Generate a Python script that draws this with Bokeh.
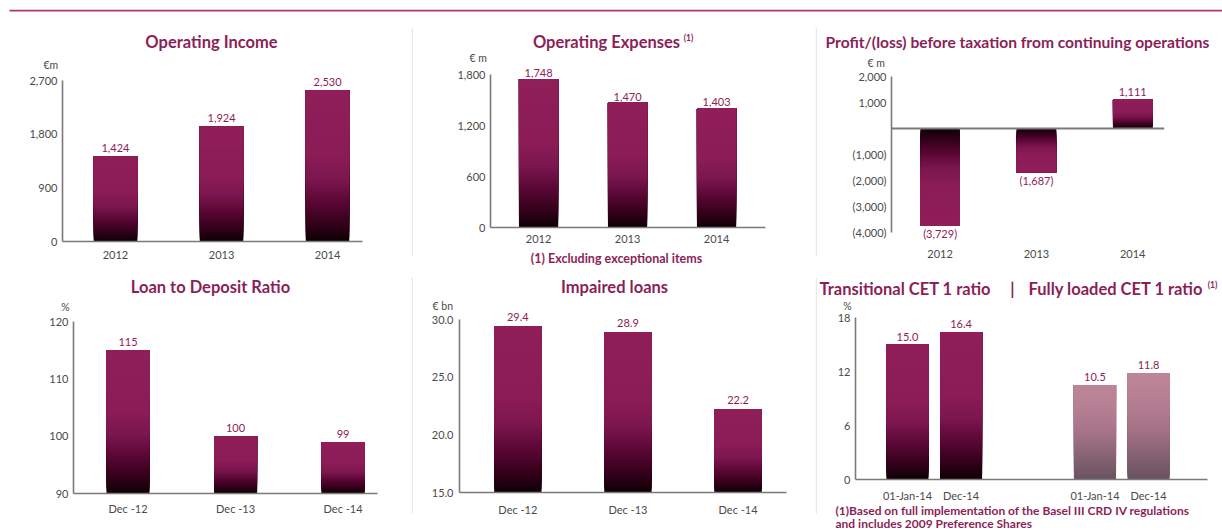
from bokeh.plotting import figure
from bokeh.layouts import column, row
from bokeh.models import (Range1d, LabelSet, ColumnDataSource, FixedTicker,
                          NumeralTickFormatter, CustomJSTickFormatter, Span)
from bokeh.embed import file_html
from bokeh.resources import INLINE
from bokeh.core.properties import value

# ---------------- data ----------------
years = ["2012", "2013", "2014"]
operating_income = [1424, 1924, 2530]
operating_expenses = [1748, 1470, 1403]
profit_before_tax = [-3729, -1687, 1111]
ldr_dates = ["Dec -12", "Dec -13", "Dec -14"]
loan_to_deposit = [115, 100, 99]
impaired_loans = [29.4, 28.9, 22.2]
cet_dates = ["01-Jan-14", "Dec-14"]
cet_transitional = [15.0, 16.4]
cet_fully_loaded = [10.5, 11.8]

oi_ticks = [0, 900, 1800, 2700]
oe_ticks = [0, 600, 1200, 1800]
pbt_ticks = [-4000, -3000, -2000, -1000, 1000, 2000]
ldr_ticks = [90, 100, 110, 120]
il_ticks = [15, 20, 25, 30]
cet_ticks = [0, 6, 12, 18]

# ---------------- style ----------------
FONT = "Lato"
PINK = "#8D1C57"
TITLE = "#8B1F58"
AXIS = "#7a7a7a"
TICKTXT = "#4a4a4a"
TSIZE = 16.5
DARK_STOPS = [(0.0, "#0e0004"), (0.1, "#2e0017"), (0.25, "#580632"),
              (0.42, "#7d1650"), (0.58, "#8b1c56"), (1.0, "#8f1e59")]
LIGHT_STOPS = [(0.0, "#6a5261"), (0.5, "#a67487"), (0.8, "#b98195"), (1.0, "#bd8597")]


def _rgb(h):
    return tuple(int(h[i:i + 2], 16) for i in (1, 3, 5))


def interp(stops, t):
    for (t0, c0), (t1, c1) in zip(stops[:-1], stops[1:]):
        if t <= t1:
            f = (t - t0) / (t1 - t0) if t1 > t0 else 0
            a, b = _rgb(c0), _rgb(c1)
            return "#%02x%02x%02x" % tuple(round(a[i] + (b[i] - a[i]) * f) for i in range(3))
    return stops[-1][1]


def blank_fig(x0, y0, W, H):
    f = figure(width=W, height=H, x_range=Range1d(x0, x0 + W), y_range=Range1d(y0 + H, y0),
               min_border=0, toolbar_location=None, output_backend="svg",
               x_axis_type=None, y_axis_type=None, outline_line_color=None,
               background_fill_color="white", border_fill_color="white")
    f.xgrid.visible = False
    f.ygrid.visible = False
    return f


def text_fig(x0, y0, W, H, items):
    f = blank_fig(x0, y0, W, H)
    for px, py, t, size, color, bold, align in items:
        f.text(x=[px], y=[py], text=[t], text_font=value(FONT), text_font_size=f"{size}px",
               text_color=color, text_font_style="bold" if bold else "normal",
               text_align=align, text_baseline="middle")
    return row(f)  # wrapped so that it is not frame-aligned with the chart


def y_range_for(v_top, py_top, v_bot, py_bot, ft, fb):
    s = (v_top - v_bot) / (py_bot - py_top)
    return (v_bot - (fb - py_bot) * s, v_top + (py_top - ft) * s)


def make_chart(x0, y0, W, H, fl, ft, fr, fb, xr, yr, ybounds, yticks, yfmt, xs, xlabels,
               xstand, ystand=5):
    p = figure(width=W, height=H, x_range=Range1d(*xr), y_range=Range1d(*yr),
               min_border_left=fl - x0, min_border_top=ft - y0,
               min_border_right=x0 + W - fr, min_border_bottom=y0 + H - fb,
               toolbar_location=None, output_backend="svg",
               outline_line_color=None, background_fill_color="white",
               border_fill_color="white")
    p.xgrid.visible = False
    p.ygrid.visible = False
    for ax in (p.xaxis[0], p.yaxis[0]):
        ax.axis_line_color = AXIS
        ax.axis_line_width = 1.6
        ax.major_tick_line_color = None
        ax.minor_tick_line_color = None
        ax.major_tick_out = 0
        ax.major_tick_in = 0
        ax.minor_tick_out = 0
        ax.major_label_text_font = FONT
        ax.major_label_text_font_size = "11px"
        ax.major_label_text_color = TICKTXT
    p.yaxis[0].bounds = ybounds
    p.yaxis[0].ticker = FixedTicker(ticks=yticks)
    p.yaxis[0].formatter = yfmt
    p.yaxis[0].major_label_standoff = ystand
    p.xaxis[0].ticker = FixedTicker(ticks=xs)
    p.xaxis[0].formatter = CustomJSTickFormatter(args=dict(labels=xlabels), code="return labels[index];")
    p.xaxis[0].major_label_standoff = xstand
    return p


def gradient_bars(p, xs, vals, base, width, stops, n=48):
    # each slice runs from its own start to the bar end, painted base-first,
    # so later slices cover earlier ones and no seams appear
    L, R, B, T, C = [], [], [], [], []
    for x, v in zip(xs, vals):
        for k in range(n):
            t0 = k / n
            L.append(x - width / 2)
            R.append(x + width / 2)
            B.append(base + (v - base) * t0)
            T.append(v)
            C.append(interp(stops, (k + 0.5) / n))
    src = ColumnDataSource(dict(left=L, right=R, bottom=B, top=T, color=C))
    p.quad(left="left", right="right", bottom="bottom", top="top", fill_color="color",
           line_color=None, source=src)


def value_labels(p, xs, vals, texts, offsets):
    src = ColumnDataSource(dict(x=xs, y=vals, text=texts, off=offsets))
    p.add_layout(LabelSet(x="x", y="y", text="text", y_offset="off", source=src,
                          text_align="center", text_baseline="middle",
                          text_font=value(FONT), text_font_size="11px", text_color=PINK))


def line_fig(W, H, y0, y1, x_start, color):
    f = blank_fig(0, 0, W, H)
    f.quad(left=x_start, right=W, top=y0, bottom=y1, fill_color=color, line_color=None)
    return f


def sep_fig(H, page_y0, y_top, y_bot):
    f = blank_fig(0, page_y0, 2, H)
    f.quad(left=0, right=2, top=y_top, bottom=y_bot, fill_color="#e8e8e8", line_color=None)
    return f


comma = NumeralTickFormatter(format="0,0")
paren = CustomJSTickFormatter(code="const a = Math.abs(tick).toLocaleString('en-US'); return tick < 0 ? '(' + a + ')' : a;")


def fmt_num(v):
    return f"({abs(v):,})" if v < 0 else f"{v:,}"


idx3 = list(range(len(years)))

# ---- Panel 1: Operating Income ----
h1 = text_fig(0, 12, 411, 58, [
    (211, 41, "Operating Income", TSIZE, TITLE, True, "center"),
    (43, 64, "€m", 10.5, TICKTXT, False, "left")])
yr1 = y_range_for(oi_ticks[-1], 80, oi_ticks[0], 241, 70, 241)
p1 = make_chart(0, 70, 411, 199, 62, 70, 362, 241, (-0.5, 2.33), yr1,
                (oi_ticks[0], oi_ticks[-1]), oi_ticks, comma, idx3, years, 9)
gradient_bars(p1, idx3, operating_income, 0, 0.41, DARK_STOPS)
value_labels(p1, idx3, operating_income, [fmt_num(v) for v in operating_income], [9] * 3)
panel1 = column(h1, p1)

# ---- Panel 2: Operating Expenses ----
h2 = text_fig(413, 12, 402, 52, [
    (606, 41, "Operating Expenses", TSIZE, TITLE, True, "center"),
    (688, 37, "(1)", 8.5, TITLE, True, "center"),
    (469, 57.5, "€ m", 10.5, TICKTXT, False, "left")])
yr2 = y_range_for(oe_ticks[-1], 74, oe_ticks[0], 227, 64, 227)
p2 = make_chart(413, 64, 402, 186, 490, 64, 765, 227, (-0.54, 2.55), yr2,
                (oe_ticks[0], oe_ticks[-1]), oe_ticks, comma, idx3, years, 7)
gradient_bars(p2, idx3, operating_expenses, 0, 0.44, DARK_STOPS)
value_labels(p2, idx3, operating_expenses, [fmt_num(v) for v in operating_expenses], [6] * 3)
f2 = text_fig(413, 250, 402, 19, [
    (616, 258, "(1) Excluding exceptional items", 12.5, TITLE, True, "center")])
panel2 = column(h2, p2, f2)

# ---- Panel 3: Profit/(loss) before taxation ----
h3 = text_fig(817, 12, 405, 57, [
    (1017, 41, "Profit/(loss) before taxation from continuing operations", 15.6, TITLE, True, "center"),
    (867, 62, "€ m", 10.5, TICKTXT, False, "left")])
yr3 = y_range_for(pbt_ticks[-1], 76, pbt_ticks[0], 232, 69, 241)
p3 = make_chart(817, 69, 405, 200, 891, 69, 1164, 241, (-0.505, 2.33), yr3,
                (pbt_ticks[0], pbt_ticks[-1]), pbt_ticks, paren, idx3, years, 8)
p3.xaxis[0].axis_line_color = None
p3.add_layout(Span(location=0, dimension="width", line_color=AXIS, line_width=2))
gradient_bars(p3, idx3, profit_before_tax, 0, 0.41, DARK_STOPS)
value_labels(p3, idx3, profit_before_tax, [fmt_num(v) for v in profit_before_tax],
             [8 if v > 0 else -8 for v in profit_before_tax])
panel3 = column(h3, p3)

# ---- Panel 4: Loan to Deposit Ratio ----
h4 = text_fig(0, 272, 411, 41, [
    (210, 286, "Loan to Deposit Ratio", TSIZE, TITLE, True, "center"),
    (65, 306, "%", 10.5, TICKTXT, False, "center")])
yr4 = y_range_for(ldr_ticks[-1], 321, ldr_ticks[0], 493, 313, 493)
p4 = make_chart(0, 313, 411, 217, 73, 313, 377, 493, (-0.507, 2.32), yr4,
                (ldr_ticks[0], ldr_ticks[-1]), ldr_ticks, NumeralTickFormatter(format="0"),
                idx3, ldr_dates, 8)
gradient_bars(p4, idx3, loan_to_deposit, ldr_ticks[0], 0.40, DARK_STOPS)
value_labels(p4, idx3, loan_to_deposit, [str(v) for v in loan_to_deposit], [8] * 3)
panel4 = column(h4, p4)

# ---- Panel 5: Impaired loans ----
h5 = text_fig(413, 272, 402, 39, [
    (614, 286, "Impaired loans", TSIZE, TITLE, True, "center"),
    (432, 305, "€ bn", 10.5, TICKTXT, False, "left")])
yr5 = y_range_for(il_ticks[-1], 319, il_ticks[0], 492, 311, 492)
p5 = make_chart(413, 311, 402, 219, 459, 311, 786, 492, (-0.53, 2.44), yr5,
                (il_ticks[0], il_ticks[-1]), il_ticks, NumeralTickFormatter(format="0.0"),
                idx3, ldr_dates, 10, 6)
gradient_bars(p5, idx3, impaired_loans, il_ticks[0], 0.43, DARK_STOPS)
value_labels(p5, idx3, impaired_loans, [f"{v:.1f}" for v in impaired_loans], [9] * 3)
panel5 = column(h5, p5)

# ---- Panel 6: CET 1 ratios ----
GROUP_GAP = 3.5
xs_t = [float(i) for i in range(len(cet_dates))]
xs_f = [i + GROUP_GAP for i in range(len(cet_dates))]
h6 = text_fig(817, 272, 405, 39, [
    (819, 288, "Transitional CET 1 ratio", TSIZE, TITLE, True, "left"),
    (1012, 288, "|", TSIZE, TITLE, True, "center"),
    (1028, 288, "Fully loaded CET 1 ratio", TSIZE, TITLE, True, "left"),
    (1212, 284, "(1)", 8.5, TITLE, True, "center"),
    (847, 305, "%", 10.5, TICKTXT, False, "center")])
yr6 = y_range_for(cet_ticks[-1], 317, cet_ticks[0], 479, 311, 479)
p6 = make_chart(817, 311, 405, 193, 855, 311, 1207, 479, (-0.97, 5.6), yr6,
                (cet_ticks[0], cet_ticks[-1]), cet_ticks, NumeralTickFormatter(format="0"),
                xs_t + xs_f, cet_dates + cet_dates, 9)
gradient_bars(p6, xs_t, cet_transitional, 0, 0.785, DARK_STOPS)
gradient_bars(p6, xs_f, cet_fully_loaded, 0, 0.785, LIGHT_STOPS)
value_labels(p6, xs_t + xs_f, cet_transitional + cet_fully_loaded,
             [f"{v:.1f}" for v in cet_transitional + cet_fully_loaded], [8] * 4)
f6 = text_fig(817, 504, 405, 26, [
    (835, 510, "(1)Based on full implementation of the Basel III CRD IV regulations", 12, TITLE, True, "left"),
    (835, 522.5, "and includes 2009 Preference Shares", 12, TITLE, True, "left")])
panel6 = column(h6, p6, f6)

# ---- separators & rules ----
top_line = line_fig(1222, 12, 9.3, 10.9, 9, "#a33a72")
mid_line = line_fig(1222, 3, 0.4, 2.2, 9, "#a8497c")

layout = column(
    top_line,
    row(panel1, sep_fig(257, 12, 27, 256), panel2, sep_fig(257, 12, 27, 256), panel3),
    mid_line,
    row(panel4, sep_fig(258, 272, 277, 513), panel5, sep_fig(258, 272, 277, 513), panel6),
)

open("out.html", "w").write(file_html(layout, INLINE))
